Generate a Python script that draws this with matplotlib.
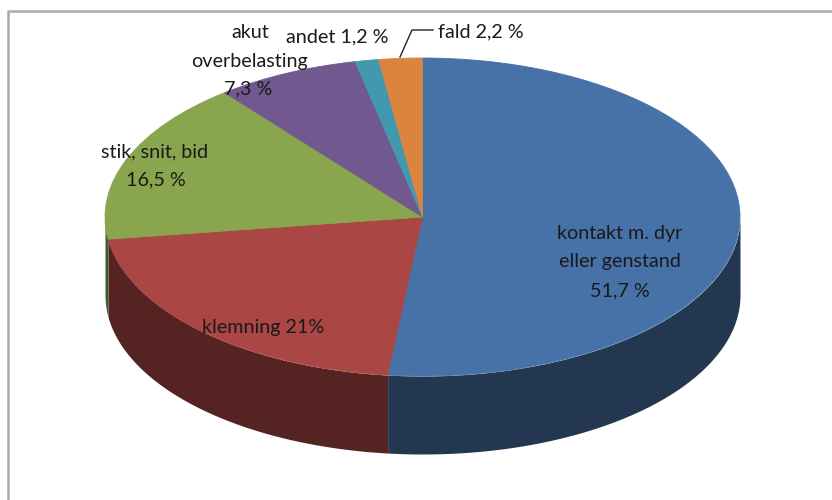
import numpy as np
import matplotlib
matplotlib.use('Agg')
import matplotlib.pyplot as plt
from matplotlib.lines import Line2D

# Values in chart order, clockwise from the top
categories = ['kontakt m. dyr eller genstand', 'klemning', 'stik, snit, bid',
              'akut overbelasting', 'andet', 'fald']
values = [51.7, 21.0, 16.5, 7.3, 1.2, 2.2]
top_colors = ['#4672A8', '#AA4643', '#89A54E', '#71588F', '#4198AF', '#DB843D']
side_colors = ['#233850', '#552321', '#44582A', '#382C47', '#204C57', '#6D421E']

W, H = 832, 500
CX, CY = 422.5, 217
RX, RY = 317.5, 159
DEPTH = 78 / RY

plt.rcParams['font.family'] = ['Lato', 'DejaVu Sans']

fig = plt.figure(figsize=(W / 100, H / 100), dpi=100, facecolor='white')
ax = fig.add_axes([0, 0, 1, 1])

# Top face
wedges, _ = ax.pie(values, colors=top_colors, startangle=90, counterclock=False,
                   normalize=True)
for w, c in zip(wedges, top_colors):
    w.set_edgecolor(c)
    w.set_linewidth(0.6)
ax.set_aspect('auto')
ax.set_xlim(-CX / RX, (W - CX) / RX)
ax.set_ylim((CY - H) / RY, CY / RY)
ax.axis('off')

# Side wall, only the front half of the cylinder shows
ends = np.cumsum(values) / np.sum(values) * 360
starts = np.concatenate(([0], ends[:-1]))
for a, b, c in zip(starts, ends, side_colors):
    lo, hi = max(a, 90), min(b, 270)
    if lo >= hi:
        continue
    t = np.radians(np.linspace(lo, hi, 200))
    ax.fill_between(np.sin(t), np.cos(t), np.cos(t) - DEPTH, color=c, linewidth=0, zorder=0)


def label(x, y, s):
    fig.text(x / W, 1 - y / H, s, ha='center', va='center', fontsize=14.2, color='#1a1a1a')


label(620, 233, 'kontakt m. dyr')
label(620, 262, 'eller genstand')
label(620, 291, '51,7 %')
label(263, 328, 'klemning 21%')
label(155, 152, 'stik, snit, bid')
label(156, 180, '16,5 %')
label(250, 32, 'akut')
label(249, 62, 'overbelasting')
label(248, 89, '7,3 %')
label(337, 37, 'andet 1,2 %')
label(481, 32, 'fald 2,2 %')

# Leader line for the fald label
fig.add_artist(Line2D(np.array([400, 412, 433]) / W, 1 - np.array([57, 30, 30]) / H,
                      color='#222222', linewidth=1))

# Frame: only top and left edges are in the crop
fig.add_artist(Line2D(np.array([8, 8, W]) / W, 1 - np.array([H, 11, 11]) / H,
                      color='#ABABAB', linewidth=1.8))

fig.savefig('out.png', dpi=100)
